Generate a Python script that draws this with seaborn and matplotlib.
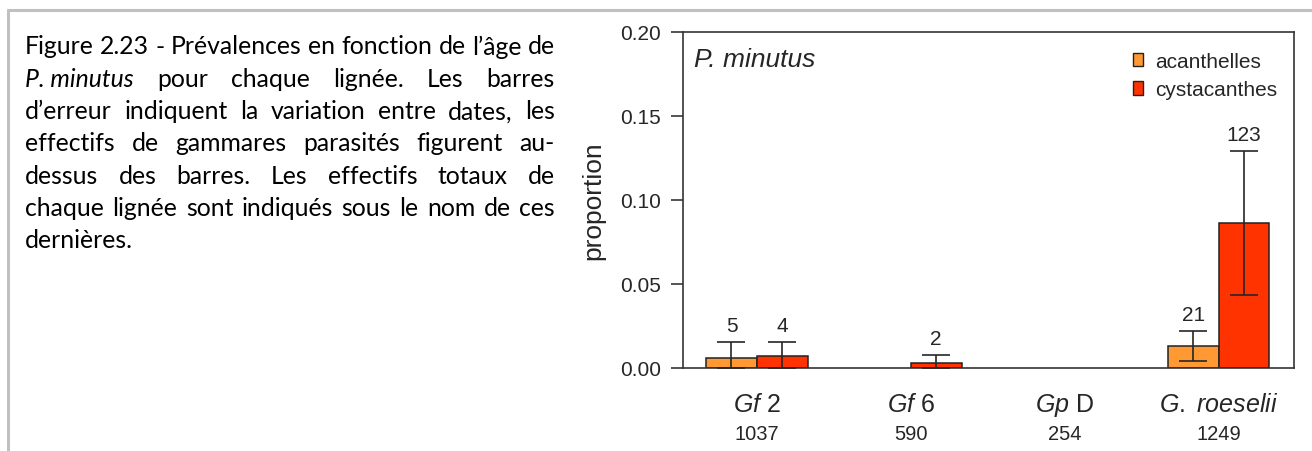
import numpy as np
import pandas as pd
import matplotlib
matplotlib.use("Agg")
import matplotlib.pyplot as plt
import matplotlib.transforms as mtransforms
from matplotlib.patches import Patch
import seaborn as sns

# Data
lineages = ["Gf 2", "Gf 6", "Gp D", "G. roeselii"]
lineage_labels = [r"$\it{Gf}$ 2", r"$\it{Gf}$ 6", r"$\it{Gp}$ D", r"$\it{G.}$ $\it{roeselii}$"]
totals = [1037, 590, 254, 1249]
stages = ["acanthelles", "cystacanthes"]

acanthelles = [0.0059, 0.0, 0.0, 0.0129]
cystacanthes = [0.0070, 0.0032, 0.0, 0.0862]
acan_low = [0.0, np.nan, np.nan, 0.0040]
acan_high = [0.0153, np.nan, np.nan, 0.0222]
cyst_low = [0.0, 0.0, np.nan, 0.0436]
cyst_high = [0.0153, 0.0077, np.nan, 0.1290]
acan_n = [5, None, None, 21]
cyst_n = [4, 2, None, 123]

colors = ["#FF9933", "#FF3300"]

df = pd.DataFrame({
    "lineage": lineages * 2,
    "stage": ["acanthelles"] * 4 + ["cystacanthes"] * 4,
    "proportion": acanthelles + cystacanthes,
})

sns.set_style("white")
plt.rcParams["font.family"] = ["Liberation Sans", "DejaVu Sans"]
plt.rcParams["mathtext.fontset"] = "custom"
plt.rcParams["mathtext.rm"] = "Liberation Sans"
plt.rcParams["mathtext.it"] = "Liberation Sans:italic"

fig = plt.figure(figsize=(13.12, 4.52), dpi=100)
ax = fig.add_axes([683 / 1312, 83 / 452, 611 / 1312, 336.3 / 452])

sns.barplot(data=df, x="lineage", y="proportion", hue="stage", order=lineages,
            hue_order=stages, palette=colors, saturation=1, width=0.66,
            edgecolor="#222222", linewidth=1.1, errorbar=None, legend=False, ax=ax)

# error bars and counts, located from the bars seaborn drew
ink = "#262626"
bars = ax.patches
lows = acan_low + cyst_low
highs = acan_high + cyst_high
vals = acanthelles + cystacanthes
counts = acan_n + cyst_n
for i, p in enumerate(bars[:8]):
    xc = p.get_x() + p.get_width() / 2
    if vals[i] == 0:
        p.set_visible(False)
    if np.isnan(highs[i]):
        continue
    ax.errorbar([xc], [vals[i]], yerr=[[vals[i] - lows[i]], [highs[i] - vals[i]]],
                fmt="none", ecolor=ink, elinewidth=1.2, capsize=10, capthick=1.2,
                zorder=5)
    if counts[i] is not None:
        ax.annotate(str(counts[i]), (xc, highs[i]), xytext=(0, 5),
                    textcoords="offset points", ha="center", va="bottom",
                    fontsize=15, color=ink)

ax.set_xlim(-0.48, 3.49)
ax.set_ylim(0, 0.20)
ax.set_yticks([0, 0.05, 0.10, 0.15, 0.20])
ax.set_yticklabels(["0.00", "0.05", "0.10", "0.15", "0.20"])
ax.tick_params(axis="y", length=8.6, width=1.1, color=ink, labelsize=15,
               labelcolor=ink, pad=7, left=True)
ax.tick_params(axis="x", bottom=False, labelbottom=False)
ax.set_xlabel("")
ax.set_ylabel("proportion", fontsize=19, color=ink)
ax.yaxis.set_label_coords(-0.127, 0.5)
for s in ax.spines.values():
    s.set_visible(True)
    s.set_color("#333333")
    s.set_linewidth(1.2)

trans = mtransforms.blended_transform_factory(ax.transData, ax.transAxes)
for k, (lab, n) in enumerate(zip(lineage_labels, totals)):
    ax.text(k, -0.1085, lab, transform=trans, ha="center", va="center",
            fontsize=18, color=ink)
    ax.text(k, -0.195, str(n), transform=trans, ha="center", va="center",
            fontsize=14.5, color=ink)

ax.text(0.018, 0.919, "P. minutus", transform=ax.transAxes, ha="left",
        va="center", fontsize=19, style="italic", color=ink)

handles = [Patch(facecolor=c, edgecolor="#222222", linewidth=1.0) for c in colors]
ax.legend(handles, stages, loc="upper left", bbox_to_anchor=(0.736, 0.94),
          frameon=False, fontsize=15, handlelength=0.5, handleheight=0.6,
          handletextpad=0.6, labelspacing=0.45, borderpad=0, borderaxespad=0,
          labelcolor=ink)

# page border
fig.add_artist(plt.Line2D([8 / 1312, 1], [1 - 11 / 452] * 2, color="#c0c0c0", lw=2.2,
                          transform=fig.transFigure))
fig.add_artist(plt.Line2D([8 / 1312] * 2, [0, 1 - 11 / 452], color="#c0c0c0", lw=2.2,
                          transform=fig.transFigure))

# caption, justified
caption = [
    [(w, "normal") for w in "Figure 2.23 - Prévalences en fonction de l’âge de".split()],
    [("P. minutus", "italic"), ("pour", "normal"), ("chaque", "normal"),
     ("lignée.", "normal"), ("Les", "normal"), ("barres", "normal")],
    [(w, "normal") for w in "d’erreur indiquent la variation entre dates, les".split()],
    [(w, "normal") for w in "effectifs de gammares parasités figurent au-".split()],
    [(w, "normal") for w in "dessus des barres. Les effectifs totaux de".split()],
    [(w, "normal") for w in "chaque lignée sont indiqués sous le nom de ces".split()],
    [(w, "normal") for w in "dernières.".split()],
]
cap_font = ["Lato", "DejaVu Sans"]
x0, x1 = 25, 555
line_y = [47, 79.3, 111.6, 143.9, 176.2, 208.5, 240.8]
fig.canvas.draw()
renderer = fig.canvas.get_renderer()

# pick the caption size so the first line fills the column with normal spaces
probe = fig.text(0, 0, "Figure 2.23 - Prévalences en fonction de l’âge de",
                 fontsize=10, family=cap_font)
w10 = probe.get_window_extent(renderer).width
probe.remove()
cap_size = 10 * (x1 - x0 - 2) / w10

for li, words in enumerate(caption):
    arts = []
    widths = []
    for w, st in words:
        t = fig.text(0, 1 - line_y[li] / 452, w, fontsize=cap_size, family=cap_font,
                     style=st, va="center", ha="left", color="#000000")
        arts.append(t)
        widths.append(t.get_window_extent(renderer).width)
    space = fig.text(0, 0, "a a", fontsize=cap_size, family=cap_font)
    sw = space.get_window_extent(renderer).width
    space.set_text("aa")
    sw -= space.get_window_extent(renderer).width
    space.remove()
    if li < len(caption) - 1 and len(words) > 1:
        gap = (x1 - x0 - sum(widths)) / (len(words) - 1)
    else:
        gap = sw
    x = x0
    for t, wd in zip(arts, widths):
        t.set_x(x / 1312)
        x += wd + gap

fig.savefig("out.png", dpi=100)
